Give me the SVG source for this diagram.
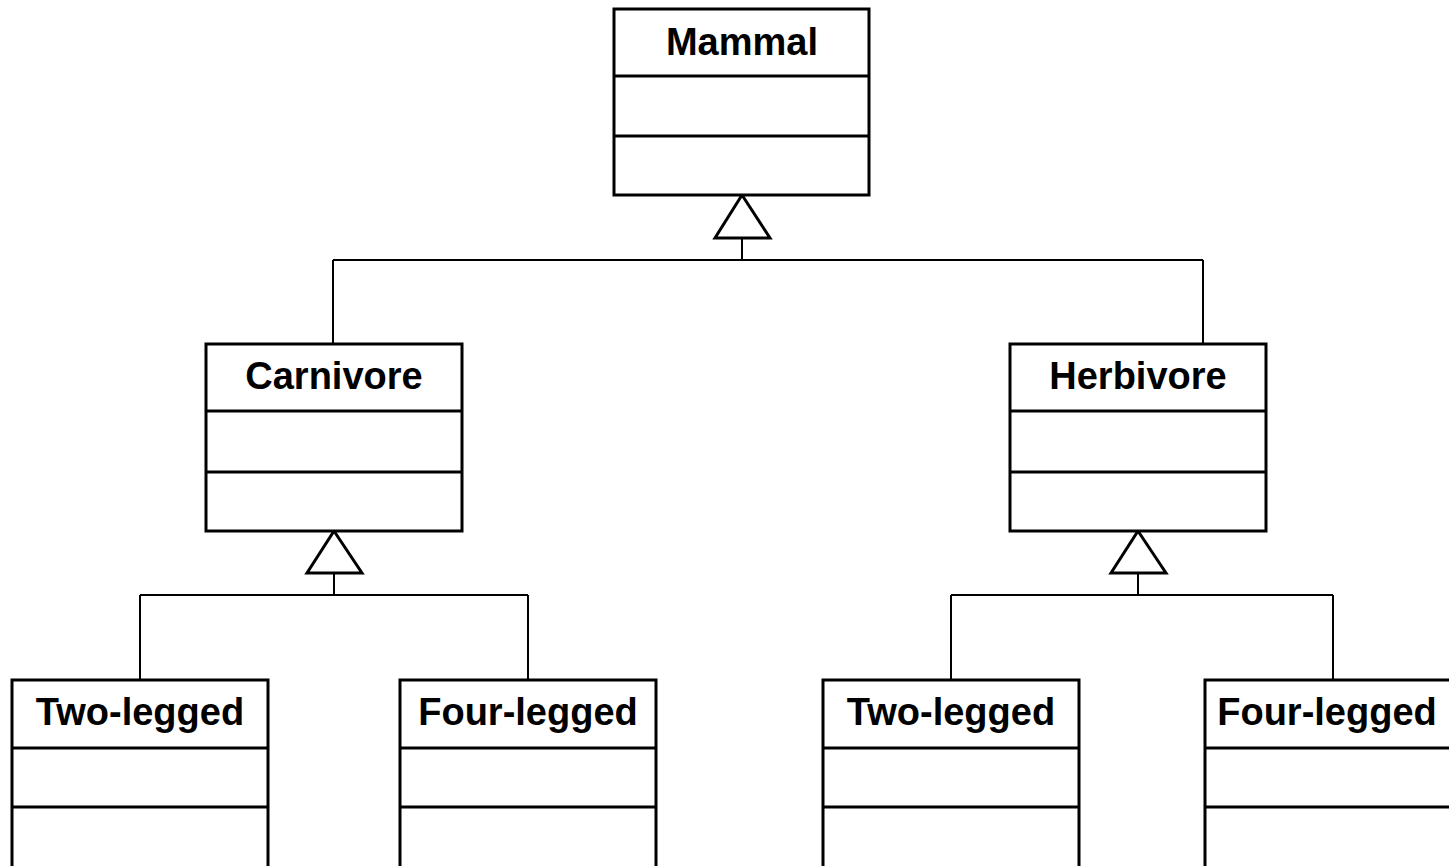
<svg xmlns="http://www.w3.org/2000/svg" width="1449" height="866" viewBox="0 0 1449 866">
<style>
.box{fill:#fff;stroke:#000;stroke-width:3}
.div{stroke:#000;stroke-width:3}
.t{font-family:"Liberation Sans",Arial,sans-serif;font-weight:bold;font-size:38px;text-anchor:middle;fill:#000}
.c{fill:none;stroke:#000;stroke-width:2}
.tri{fill:#fff;stroke:#000;stroke-width:3;stroke-linejoin:miter}
</style>
<rect width="1449" height="866" fill="#fff"/>
<g id="connectors">
<path class="c" d="M742 238V260M333 260H1203M333 260V344M1203 260V344"/>
<polygon class="tri" points="742,195 770,238 715,238"/>
<path class="c" d="M334 573V595M140 595H528M140 595V680M528 595V680"/>
<polygon class="tri" points="334,531 362,573 307,573"/>
<path class="c" d="M1138 573V595M951 595H1333M951 595V680M1333 595V680"/>
<polygon class="tri" points="1138,531 1166,573 1111,573"/>
</g>
<g id="mammal">
<rect class="box" x="614" y="9" width="255" height="186"/>
<line class="div" x1="614" y1="76" x2="869" y2="76"/>
<line class="div" x1="614" y1="136" x2="869" y2="136"/>
<text class="t" x="742" y="55">Mammal</text>
</g>
<g id="carnivore">
<rect class="box" x="206" y="344" width="256" height="187"/>
<line class="div" x1="206" y1="411" x2="462" y2="411"/>
<line class="div" x1="206" y1="472" x2="462" y2="472"/>
<text class="t" x="334" y="389">Carnivore</text>
</g>
<g id="herbivore">
<rect class="box" x="1010" y="344" width="256" height="187"/>
<line class="div" x1="1010" y1="411" x2="1266" y2="411"/>
<line class="div" x1="1010" y1="472" x2="1266" y2="472"/>
<text class="t" x="1138" y="389">Herbivore</text>
</g>
<g id="carn-two-legged">
<rect class="box" x="12" y="680" width="256" height="200"/>
<line class="div" x1="12" y1="748" x2="268" y2="748"/>
<line class="div" x1="12" y1="807" x2="268" y2="807"/>
<text class="t" x="140" y="725">Two-legged</text>
</g>
<g id="carn-four-legged">
<rect class="box" x="400" y="680" width="256" height="200"/>
<line class="div" x1="400" y1="748" x2="656" y2="748"/>
<line class="div" x1="400" y1="807" x2="656" y2="807"/>
<text class="t" x="528" y="725">Four-legged</text>
</g>
<g id="herb-two-legged">
<rect class="box" x="823" y="680" width="256" height="200"/>
<line class="div" x1="823" y1="748" x2="1079" y2="748"/>
<line class="div" x1="823" y1="807" x2="1079" y2="807"/>
<text class="t" x="951" y="725">Two-legged</text>
</g>
<g id="herb-four-legged">
<rect class="box" x="1205" y="680" width="256" height="200"/>
<line class="div" x1="1205" y1="748" x2="1461" y2="748"/>
<line class="div" x1="1205" y1="807" x2="1461" y2="807"/>
<text class="t" x="1327" y="725">Four-legged</text>
</g>
</svg>
